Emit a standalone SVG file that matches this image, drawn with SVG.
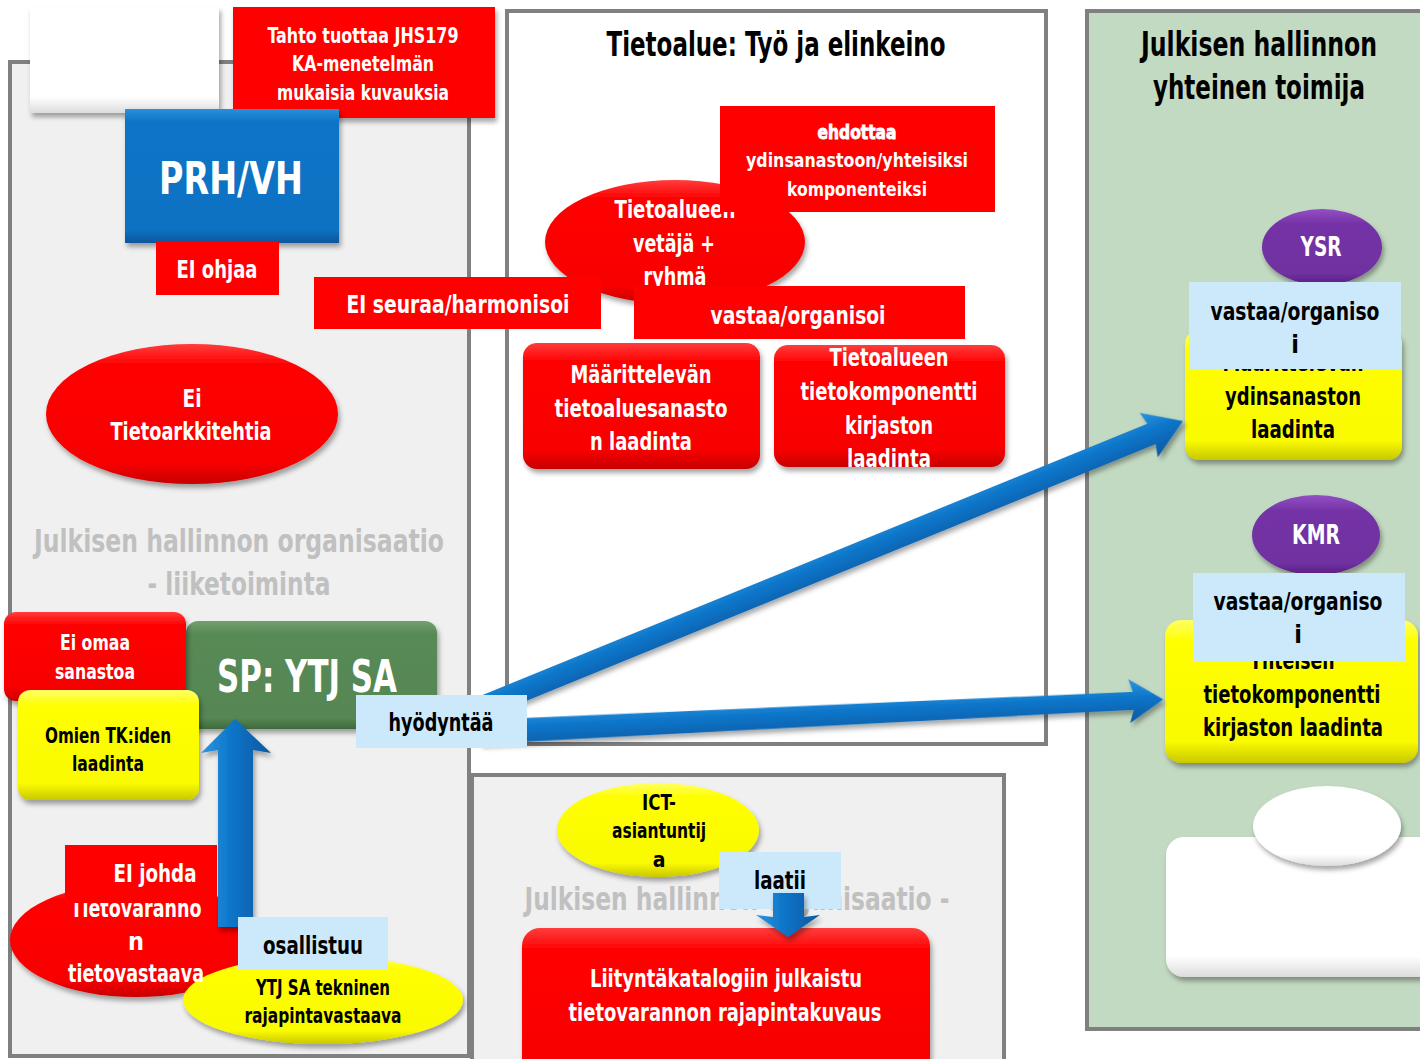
<svg xmlns="http://www.w3.org/2000/svg" width="1420" height="1059" viewBox="0 0 1420 1059">
<style>
text{font-family:"DejaVu Sans Condensed","Liberation Sans Narrow","Liberation Sans",sans-serif;font-stretch:condensed;text-anchor:middle;font-weight:bold}
.w{fill:#ffffff}
.k{fill:#000000}
.g{fill:#c0c0c0}
.cont{fill:#f0f0f0;stroke:#808080;stroke-width:4}
.red{fill:#ff0000}
.lb{fill:#cce9fb}
</style>
<defs>
<filter id="sh" x="-10%" y="-10%" width="125%" height="130%">
<feDropShadow dx="2" dy="4" stdDeviation="2.5" flood-color="#000" flood-opacity="0.35"/>
</filter>
<linearGradient id="gRed" x1="0" y1="0" x2="0" y2="1">
<stop offset="0" stop-color="#ff3d3d"/><stop offset="0.15" stop-color="#ff0000"/><stop offset="0.85" stop-color="#f80000"/><stop offset="1" stop-color="#c80000"/>
</linearGradient>
<linearGradient id="gYel" x1="0" y1="0" x2="0" y2="1">
<stop offset="0" stop-color="#ffff66"/><stop offset="0.15" stop-color="#ffff00"/><stop offset="0.85" stop-color="#fafa00"/><stop offset="1" stop-color="#c8c800"/>
</linearGradient>
<linearGradient id="gBlue" x1="0" y1="0" x2="0" y2="1">
<stop offset="0" stop-color="#2a90dc"/><stop offset="0.1" stop-color="#0a74c6"/><stop offset="0.9" stop-color="#0a72c2"/><stop offset="1" stop-color="#08559a"/>
</linearGradient>
<linearGradient id="gGreen" x1="0" y1="0" x2="0" y2="1">
<stop offset="0" stop-color="#74a070"/><stop offset="0.12" stop-color="#588a56"/><stop offset="0.9" stop-color="#558653"/><stop offset="1" stop-color="#3e6a3c"/>
</linearGradient>
<linearGradient id="gPur" x1="0" y1="0" x2="0" y2="1">
<stop offset="0" stop-color="#9350c4"/><stop offset="0.2" stop-color="#7432a6"/><stop offset="0.85" stop-color="#7030a0"/><stop offset="1" stop-color="#552080"/>
</linearGradient>
<linearGradient id="gWhite" x1="0" y1="0" x2="0" y2="1">
<stop offset="0" stop-color="#ffffff"/><stop offset="0.85" stop-color="#ffffff"/><stop offset="1" stop-color="#dcdcdc"/>
</linearGradient>
<linearGradient id="gArrow" x1="0" y1="0" x2="0" y2="1">
<stop offset="0" stop-color="#2f95e0"/><stop offset="0.45" stop-color="#0a74c8"/><stop offset="1" stop-color="#0858a0"/>
</linearGradient>
<linearGradient id="gArrowV" x1="0" y1="0" x2="1" y2="0">
<stop offset="0" stop-color="#2f95e0"/><stop offset="0.45" stop-color="#0a74c8"/><stop offset="1" stop-color="#0858a0"/>
</linearGradient>
</defs>

<rect width="1420" height="1059" fill="#ffffff"/>

<g id="containers">
<rect id="c-left" class="cont" x="10" y="62" width="459" height="994"/>
<rect id="c-tieto" x="507" y="11" width="539" height="733" fill="#ffffff" stroke="#808080" stroke-width="4"/>
<rect id="c-bottom" class="cont" x="472" y="775" width="532" height="300"/>
<rect id="c-green" x="1087" y="11" width="360" height="1018" fill="#c3dac2" stroke="#808080" stroke-width="4"/>
</g>

<g id="n-whitebox"><rect x="30" y="7" width="189" height="106" fill="url(#gWhite)" filter="url(#sh)"/></g>

<g id="n-tahto">
<rect class="red" x="233" y="7" width="262" height="111" fill="url(#gRed)" filter="url(#sh)"/>
<text class="w" x="363" y="43" font-size="21" textLength="191" lengthAdjust="spacingAndGlyphs">Tahto tuottaa JHS179</text>
<text class="w" x="363" y="71" font-size="21" textLength="142" lengthAdjust="spacingAndGlyphs">KA-menetelmän</text>
<text class="w" x="363" y="100" font-size="21" textLength="172" lengthAdjust="spacingAndGlyphs">mukaisia kuvauksia</text>
</g>

<g id="n-prh">
<rect x="125" y="109" width="214" height="134" fill="url(#gBlue)" filter="url(#sh)"/>
<text class="w" x="231" y="194" font-size="44" textLength="144" lengthAdjust="spacingAndGlyphs">PRH/VH</text>
</g>

<g id="n-eiohjaa">
<rect class="red" x="156" y="241" width="123" height="54"/>
<text class="w" x="217" y="278" font-size="25" textLength="81" lengthAdjust="spacingAndGlyphs">EI ohjaa</text>
</g>

<g id="n-tietoarkkitehti">
<ellipse cx="192" cy="414" rx="146" ry="70" fill="url(#gRed)" filter="url(#sh)"/>
<text class="w" x="192" y="407" font-size="25" textLength="19" lengthAdjust="spacingAndGlyphs">Ei</text>
<text class="w" x="191" y="440" font-size="25" textLength="161" lengthAdjust="spacingAndGlyphs">Tietoarkkitehtia</text>
</g>

<g id="lbl-left-org">
<text class="g" x="239" y="552" font-size="32" textLength="410" lengthAdjust="spacingAndGlyphs">Julkisen hallinnon organisaatio</text>
<text class="g" x="239" y="595" font-size="32" textLength="183" lengthAdjust="spacingAndGlyphs">- liiketoiminta</text>
</g>

<g id="n-sp">
<rect x="186" y="621" width="251" height="108" rx="12" fill="url(#gGreen)" filter="url(#sh)"/>
<text class="w" x="307" y="692" font-size="44" textLength="180" lengthAdjust="spacingAndGlyphs">SP: YTJ SA</text>
</g>

<g id="n-eiomaa">
<rect x="4" y="612" width="182" height="89" rx="12" fill="url(#gRed)" filter="url(#sh)"/>
<text class="w" x="95" y="650" font-size="21" textLength="70" lengthAdjust="spacingAndGlyphs">Ei omaa</text>
<text class="w" x="95" y="679" font-size="21" textLength="80" lengthAdjust="spacingAndGlyphs">sanastoa</text>
</g>

<g id="n-omien">
<rect x="18" y="690" width="181" height="110" rx="12" fill="url(#gYel)" filter="url(#sh)"/>
<text class="k" x="108" y="743" font-size="21" textLength="126" lengthAdjust="spacingAndGlyphs">Omien TK:iden</text>
<text class="k" x="108" y="771" font-size="21" textLength="72" lengthAdjust="spacingAndGlyphs">laadinta</text>
</g>

<g id="n-tietovastaava">
<ellipse cx="136" cy="940" rx="126" ry="57" fill="url(#gRed)" filter="url(#sh)"/>
<text class="w" x="136" y="917" font-size="25" textLength="131" lengthAdjust="spacingAndGlyphs">Tietovaranno</text>
<text class="w" x="136" y="950" font-size="25">n</text>
</g>

<g id="n-eijohda">
<rect class="red" x="65" y="845" width="152" height="58"/>
<text class="w" x="155" y="882" font-size="25" textLength="83" lengthAdjust="spacingAndGlyphs">EI johda</text>
</g>

<g id="n-ytjtek">
<ellipse cx="323" cy="1000" rx="140" ry="44" fill="url(#gYel)" filter="url(#sh)"/>
<text class="w" x="136" y="982" font-size="25" textLength="136" lengthAdjust="spacingAndGlyphs">tietovastaava</text>
<text class="k" x="323" y="995" font-size="21" textLength="134" lengthAdjust="spacingAndGlyphs">YTJ SA tekninen</text>
<text class="k" x="323" y="1023" font-size="21" textLength="157" lengthAdjust="spacingAndGlyphs">rajapintavastaava</text>
</g>

<g id="n-tietoalue-title">
<text class="k" x="776" y="56" font-size="33" textLength="339" lengthAdjust="spacingAndGlyphs">Tietoalue: Työ ja elinkeino</text>
</g>

<g id="n-vetaja">
<ellipse cx="675" cy="242" rx="130" ry="62" fill="url(#gRed)" filter="url(#sh)"/>
<text class="w" x="675" y="218" font-size="24" textLength="121" lengthAdjust="spacingAndGlyphs">Tietoalueen</text>
<text class="w" x="674" y="252" font-size="24" textLength="82" lengthAdjust="spacingAndGlyphs">vetäjä +</text>
<text class="w" x="675" y="285" font-size="24" textLength="63" lengthAdjust="spacingAndGlyphs">ryhmä</text>
</g>

<g id="n-ehdottaa">
<rect class="red" x="720" y="106" width="275" height="106"/>
<text class="w" x="857" y="139" font-size="20" textLength="79" lengthAdjust="spacingAndGlyphs" stroke="#ffffff" stroke-width="0.8">ehdottaa</text>
<text class="w" x="857" y="167" font-size="20" textLength="222" lengthAdjust="spacingAndGlyphs">ydinsanastoon/yhteisiksi</text>
<text class="w" x="857" y="196" font-size="20" textLength="140" lengthAdjust="spacingAndGlyphs">komponenteiksi</text>
</g>

<g id="n-eiseuraa">
<rect class="red" x="314" y="277" width="287" height="52"/>
<text class="w" x="458" y="313" font-size="25" textLength="223" lengthAdjust="spacingAndGlyphs">EI seuraa/harmonisoi</text>
</g>

<g id="n-vastaa">
<rect class="red" x="634" y="286" width="331" height="53"/>
<text class="w" x="798" y="324" font-size="25" textLength="175" lengthAdjust="spacingAndGlyphs">vastaa/organisoi</text>
</g>

<g id="n-maarittelevan">
<rect x="523" y="343" width="237" height="126" rx="14" fill="url(#gRed)" filter="url(#sh)"/>
<text class="w" x="641" y="383" font-size="25" textLength="141" lengthAdjust="spacingAndGlyphs">Määrittelevän</text>
<text class="w" x="641" y="417" font-size="25" textLength="173" lengthAdjust="spacingAndGlyphs">tietoaluesanasto</text>
<text class="w" x="641" y="450" font-size="25" textLength="102" lengthAdjust="spacingAndGlyphs">n laadinta</text>
</g>

<g id="n-tkkirjasto">
<rect x="774" y="345" width="231" height="122" rx="14" fill="url(#gRed)" filter="url(#sh)"/>
<text class="w" x="889" y="366" font-size="25" textLength="119" lengthAdjust="spacingAndGlyphs">Tietoalueen</text>
<text class="w" x="889" y="400" font-size="25" textLength="177" lengthAdjust="spacingAndGlyphs">tietokomponentti</text>
<text class="w" x="889" y="434" font-size="25" textLength="88" lengthAdjust="spacingAndGlyphs">kirjaston</text>
<text class="w" x="889" y="467" font-size="25" textLength="84" lengthAdjust="spacingAndGlyphs">laadinta</text>
</g>

<g id="n-green-title">
<text class="k" x="1259" y="56" font-size="33" textLength="236" lengthAdjust="spacingAndGlyphs">Julkisen hallinnon</text>
<text class="k" x="1259" y="99" font-size="33" textLength="212" lengthAdjust="spacingAndGlyphs">yhteinen toimija</text>
</g>

<g id="n-ysr">
<ellipse cx="1322" cy="247" rx="60" ry="38" fill="url(#gPur)" filter="url(#sh)"/>
<text class="w" x="1321" y="256" font-size="26" textLength="41" lengthAdjust="spacingAndGlyphs">YSR</text>
</g>

<g id="n-ydinsanasto">
<rect x="1185" y="330" width="217" height="130" rx="14" fill="url(#gYel)" filter="url(#sh)"/>
<text class="k" x="1293" y="371" font-size="25" textLength="141" lengthAdjust="spacingAndGlyphs">Määrittelevän</text>
<text class="k" x="1293" y="405" font-size="25" textLength="136" lengthAdjust="spacingAndGlyphs">ydinsanaston</text>
<text class="k" x="1293" y="438" font-size="25" textLength="84" lengthAdjust="spacingAndGlyphs">laadinta</text>
</g>

<g id="lbl-vastaa1">
<rect class="lb" x="1189" y="282" width="212" height="87"/>
<text class="k" x="1295" y="320" font-size="25" textLength="169" lengthAdjust="spacingAndGlyphs">vastaa/organiso</text>
<text class="k" x="1295" y="353" font-size="25">i</text>
</g>

<g id="n-kmr">
<ellipse cx="1316" cy="535" rx="64" ry="40" fill="url(#gPur)" filter="url(#sh)"/>
<text class="w" x="1316" y="544" font-size="26" textLength="48" lengthAdjust="spacingAndGlyphs">KMR</text>
</g>

<g id="n-yhteinen-tk">
<rect x="1165" y="620" width="253" height="143" rx="16" fill="url(#gYel)" filter="url(#sh)"/>
<text class="k" x="1292" y="669" font-size="25" textLength="85" lengthAdjust="spacingAndGlyphs">Yhteisen</text>
<text class="k" x="1292" y="703" font-size="25" textLength="177" lengthAdjust="spacingAndGlyphs">tietokomponentti</text>
<text class="k" x="1293" y="736" font-size="25" textLength="180" lengthAdjust="spacingAndGlyphs">kirjaston laadinta</text>
</g>

<g id="lbl-vastaa2">
<rect class="lb" x="1193" y="573" width="212" height="88"/>
<text class="k" x="1298" y="610" font-size="25" textLength="169" lengthAdjust="spacingAndGlyphs">vastaa/organiso</text>
<text class="k" x="1298" y="643" font-size="25">i</text>
</g>

<g id="n-whiteshape">
<rect x="1166" y="837" width="270" height="140" rx="18" fill="url(#gWhite)" filter="url(#sh)"/>
<ellipse cx="1327" cy="826" rx="74" ry="40" fill="url(#gWhite)" filter="url(#sh)"/>
</g>

<g id="lbl-bottom-org">
<text class="g" x="737" y="910" font-size="32" textLength="425" lengthAdjust="spacingAndGlyphs">Julkisen hallinnon organisaatio -</text>
</g>

<g id="n-ict">
<ellipse cx="658" cy="830" rx="101" ry="47" fill="url(#gYel)" filter="url(#sh)"/>
<text class="k" x="659" y="810" font-size="21" textLength="34" lengthAdjust="spacingAndGlyphs">ICT-</text>
<text class="k" x="659" y="838" font-size="21" textLength="94" lengthAdjust="spacingAndGlyphs">asiantuntij</text>
<text class="k" x="659" y="867" font-size="21">a</text>
</g>

<g id="lbl-laatii">
<rect class="lb" x="719" y="852" width="122" height="57"/>
<text class="k" x="780" y="889" font-size="25" textLength="52" lengthAdjust="spacingAndGlyphs">laatii</text>
</g>

<g id="n-liityntakatalogi">
<rect x="522" y="928" width="408" height="150" rx="18" fill="url(#gRed)" filter="url(#sh)"/>
<text class="w" x="726" y="987" font-size="25" textLength="272" lengthAdjust="spacingAndGlyphs">Liityntäkatalogiin julkaistu</text>
<text class="w" x="725" y="1021" font-size="25" textLength="313" lengthAdjust="spacingAndGlyphs">tietovarannon rajapintakuvaus</text>
</g>

<g id="connectors">
<g transform="translate(470,712) rotate(-22.2)" filter="url(#sh)">
<polygon points="0,-11 736,-11 733,-24 770,0 733,24 736,11 0,11" fill="url(#gArrow)"/>
</g>
<g transform="translate(480,732) rotate(-2.73)" filter="url(#sh)">
<polygon points="0,-12 654,-9 650,-22 684,0 650,22 654,9 0,12" fill="url(#gArrow)"/>
</g>
<polygon points="235,719 271,753 253,750 253,927 218,927 218,750 201,753" fill="url(#gArrowV)" filter="url(#sh)"/>
<polygon points="773,893 804,893 804,917 820,915 788,937 756,915 773,917" fill="url(#gArrowV)" filter="url(#sh)"/>
</g>

<g id="lbl-hyodyntaa">
<rect class="lb" x="356" y="695" width="171" height="53"/>
<text class="k" x="441" y="731" font-size="25" textLength="105" lengthAdjust="spacingAndGlyphs">hyödyntää</text>
</g>

<g id="lbl-osallistuu">
<rect class="lb" x="238" y="917" width="150" height="53"/>
<text class="k" x="313" y="954" font-size="25" textLength="100" lengthAdjust="spacingAndGlyphs">osallistuu</text>
</g>
</svg>
